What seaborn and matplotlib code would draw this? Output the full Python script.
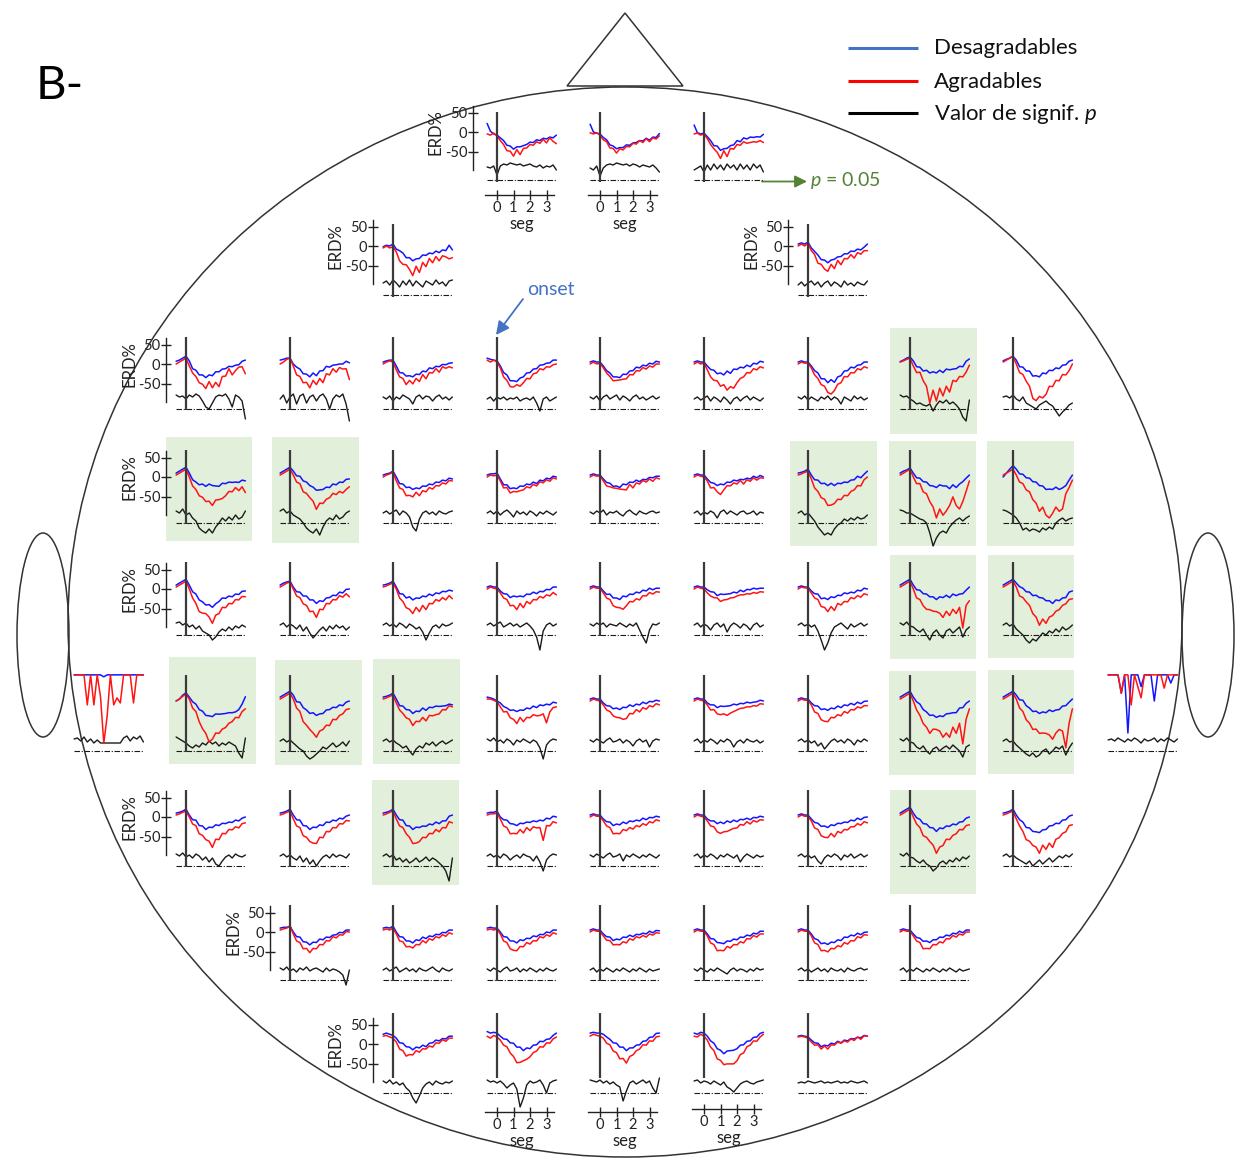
import numpy as np
import matplotlib
matplotlib.use("Agg")
import matplotlib.pyplot as plt
from matplotlib.patches import Ellipse, Polygon, Rectangle
import seaborn as sns

sns.set_style("white")
plt.rcParams["font.family"] = ["Lato", "DejaVu Sans"]
plt.rcParams["mathtext.fontset"] = "custom"
plt.rcParams["mathtext.rm"] = "Lato"
plt.rcParams["mathtext.it"] = "Lato:italic"

# ---------------------------------------------------------------- data
# time axis of every trace (s), onset at 0
TIME = np.round(np.arange(-0.6, 3.61, 0.2), 1)

# ERD% traces per row of electrodes (left to right); p traces are the
# height of the significance curve above the p = 0.05 line
BLUE_R1 = [
    [22, 2, -5, -8, -15, -22, -34, -36, -44, -38, -38, -35, -32, -26, -27, -20, -22, -16, -18, -13, -15, -8],
    [20, 0, -3, -5, -14, -20, -33, -36, -43, -40, -40, -33, -34, -28, -27, -22, -23, -16, -21, -13, -14, -4],
    [18, -2, -5, -3, -12, -22, -35, -36, -47, -43, -42, -35, -33, -22, -25, -15, -18, -13, -14, -12, -13, -6],
]
RED_R1 = [
    [-5, -8, -3, -10, -22, -32, -48, -49, -62, -45, -58, -42, -41, -32, -34, -25, -29, -19, -28, -15, -24, -30],
    [-2, -5, -2, -8, -20, -25, -41, -42, -54, -43, -46, -37, -38, -29, -31, -22, -27, -17, -25, -15, -18, -10],
    [-5, -3, -8, -5, -17, -32, -43, -52, -68, -48, -63, -42, -44, -32, -34, -25, -29, -27, -25, -26, -22, -27],
]
P_R1 = [
    [13, 12, 14, 5, 14, 16, 15, 17, 16, 15, 16, 14, 15, 16, 14, 13, 15, 12, 14, 13, 15, 10],
    [12, 10, 14, 4, 12, 15, 16, 15, 17, 16, 15, 16, 14, 16, 15, 13, 15, 14, 13, 15, 12, 8],
    [10, 12, 14, 8, 15, 10, 16, 11, 15, 10, 16, 12, 15, 10, 16, 11, 15, 10, 16, 12, 15, 8],
]

BLUE_R2 = [
    [-2, 2, 0, 5, -8, -12, -18, -30, -30, -38, -33, -32, -23, -24, -18, -20, -13, -17, -10, -12, 2, -10],
    [5, 8, 5, 10, -5, -14, -23, -35, -36, -43, -36, -34, -28, -27, -20, -20, -13, -14, -8, -10, -3, 5],
]
RED_R2 = [
    [-5, 0, -5, -2, -15, -38, -47, -48, -60, -76, -52, -68, -42, -53, -32, -43, -27, -38, -25, -28, -33, -30],
    [0, 5, 0, 8, -12, -22, -44, -47, -59, -65, -47, -58, -37, -48, -32, -33, -22, -31, -17, -21, -12, -12],
]
P_R2 = [
    [12, 14, 10, 15, 12, 8, 14, 10, 15, 9, 14, 11, 8, 14, 12, 10, 15, 11, 13, 9, 14, 15],
    [10, 13, 9, 12, 14, 10, 13, 8, 12, 14, 9, 13, 11, 8, 14, 10, 12, 9, 13, 11, 10, 14],
]

BLUE_R3 = [
    [7, 10, 15, 20, 8, -12, -16, -28, -28, -35, -28, -30, -20, -20, -13, -12, -6, -7, -3, -2, 7, 10],
    [10, 12, 15, 15, 0, -8, -13, -25, -26, -33, -23, -30, -18, -17, -6, -8, -3, -2, 0, 0, 7, 3],
    [5, 8, 10, 10, -5, -22, -23, -31, -30, -33, -26, -27, -18, -20, -10, -12, -6, -7, -1, -2, 2, 3],
    [15, 12, 10, 8, -5, -22, -28, -43, -43, -45, -36, -33, -23, -22, -13, -12, -3, -2, 2, 3, 10, 10],
    [5, 8, 5, 5, -5, -17, -23, -33, -33, -35, -26, -27, -18, -17, -8, -10, -3, -5, 2, 0, 7, 5],
    [5, 8, 5, 5, -5, -14, -16, -25, -23, -28, -18, -24, -13, -14, -8, -10, -3, -7, 2, 0, 7, 5],
    [5, 8, 5, 5, -5, -17, -23, -38, -38, -48, -40, -47, -33, -30, -18, -17, -8, -10, -3, -2, 5, 5],
    [6, 10, 15, 18, 8, -7, -8, -18, -16, -23, -20, -23, -16, -22, -13, -15, -13, -12, -6, -7, 7, 13],
    [8, 12, 15, 20, 10, -7, -8, -18, -18, -31, -30, -33, -23, -25, -16, -17, -10, -12, -3, -2, 7, 10],
]
RED_R3 = [
    [0, 5, 10, 15, -5, -23, -32, -48, -52, -63, -45, -61, -47, -58, -32, -31, -12, -28, -17, -8, -7, -25],
    [0, 5, 12, 15, -5, -28, -32, -48, -47, -61, -42, -53, -37, -48, -25, -28, -12, -21, -9, -13, -12, -40],
    [0, 5, 8, 5, -15, -33, -37, -53, -42, -51, -37, -45, -27, -38, -22, -23, -12, -21, -7, -11, -7, -10],
    [10, 5, 10, 5, -10, -33, -42, -58, -59, -53, -57, -48, -37, -38, -25, -23, -12, -15, -7, -8, -2, 0],
    [0, 5, 0, 2, -10, -23, -32, -43, -42, -41, -39, -38, -27, -28, -17, -18, -9, -13, -5, -8, 0, 0],
    [0, 5, 0, 3, -15, -33, -42, -43, -57, -53, -67, -58, -62, -48, -37, -33, -22, -23, -12, -15, -7, -10],
    [0, 5, 2, 3, -10, -28, -37, -53, -57, -73, -77, -68, -52, -48, -32, -33, -22, -23, -12, -15, -7, -10],
    [5, 8, 12, 15, -5, -22, -21, -43, -57, -100, -67, -95, -62, -82, -57, -72, -42, -45, -32, -33, -21, -3],
    [5, 10, 15, 20, 0, -22, -27, -44, -57, -88, -94, -83, -87, -78, -57, -58, -42, -43, -27, -28, -17, 0],
]
P_R3 = [
    [14, 12, 13, 10, 14, 12, 15, 13, 8, 2, 0, 6, 12, 14, 13, 15, 10, 2, 14, 12, 8, -10],
    [10, 14, 6, 12, 15, 5, 13, 15, 6, 12, 14, 8, 13, 15, 10, 0, 10, 14, 12, 15, 5, -12],
    [12, 10, 13, 8, 12, 10, 14, 12, 10, 5, 12, 14, 10, 13, 12, 8, 12, 14, 10, 12, 9, 12],
    [10, 12, 8, 12, 10, 12, 9, 11, 10, 12, 8, 10, 11, 9, 12, 6, -2, 10, 12, 8, 10, 12],
    [12, 10, 13, 8, 12, 14, 10, 12, 14, 9, 13, 11, 8, 12, 14, 10, 12, 9, 11, 13, 10, 12],
    [10, 12, 9, 11, 13, 8, 12, 10, 7, 12, 9, 5, 10, 12, 8, 11, 13, 9, 12, 10, 8, 11],
    [12, 10, 13, 9, 12, 10, 8, 12, 10, 13, 9, 12, 10, 5, 12, 10, 8, 13, 10, 12, 9, 11],
    [14, 12, 13, 10, 8, 5, 6, 4, 3, 5, -2, 4, 8, 6, 9, 5, 7, 4, 0, -8, -12, 9],
    [12, 13, 11, 14, 10, 8, 12, 6, 4, 2, 0, 4, 6, 8, 5, 3, -2, -7, -3, 0, 4, 6],
]

BLUE_R4 = [
    [10, 15, 20, 25, 10, -7, -13, -20, -18, -24, -18, -22, -23, -24, -16, -17, -13, -14, -13, -14, -8, -10],
    [10, 15, 20, 25, 15, 3, 2, -10, -13, -22, -26, -34, -33, -32, -26, -27, -18, -20, -13, -14, -6, -5],
    [5, 8, 10, 15, 0, -17, -18, -27, -26, -32, -28, -30, -23, -24, -18, -20, -13, -14, -8, -10, -3, -5],
    [5, 8, 8, 10, -5, -20, -20, -30, -28, -30, -23, -24, -18, -20, -13, -17, -8, -10, -3, -5, 2, 0],
    [5, 8, 5, 5, -5, -14, -16, -24, -23, -27, -18, -20, -13, -14, -8, -12, -6, -7, -1, -2, 2, 2],
    [5, 8, 5, 5, -5, -14, -16, -22, -18, -20, -13, -14, -8, -10, -6, -7, -3, -5, 2, -2, 4, 0],
    [10, 12, 15, 20, 5, -7, -8, -17, -16, -22, -16, -22, -16, -17, -13, -14, -8, -7, 2, -2, 7, 15],
    [10, 15, 18, 23, 10, -2, -3, -12, -13, -22, -23, -27, -20, -23, -23, -30, -20, -27, -18, -12, -3, 5],
    [0, 10, 20, 29, 20, 8, 7, -2, -3, -12, -13, -22, -23, -32, -31, -32, -26, -32, -28, -22, -8, 5],
]
RED_R4 = [
    [5, 10, 15, 20, 0, -23, -32, -48, -52, -63, -62, -73, -59, -58, -55, -48, -37, -38, -27, -35, -25, -40],
    [5, 10, 15, 20, 5, -13, -17, -38, -42, -53, -62, -83, -67, -68, -57, -53, -42, -45, -37, -41, -32, -25],
    [0, 5, 8, 12, -10, -28, -32, -48, -47, -51, -39, -48, -35, -38, -27, -31, -22, -23, -15, -18, -9, -10],
    [0, 5, 3, 5, -10, -28, -27, -41, -37, -38, -35, -33, -25, -28, -19, -23, -12, -15, -7, -11, -2, -5],
    [0, 5, 2, 3, -10, -23, -25, -28, -29, -31, -32, -33, -19, -28, -15, -18, -9, -13, -5, -11, -2, -5],
    [0, 5, 2, 0, -10, -28, -27, -38, -45, -33, -22, -23, -15, -18, -9, -18, -7, -11, -2, -8, -2, -3],
    [5, 8, 12, 15, -5, -28, -37, -53, -57, -73, -72, -68, -57, -58, -47, -48, -37, -33, -22, -23, -7, 0],
    [5, 10, 15, 20, 0, -17, -17, -38, -43, -63, -77, -105, -82, -98, -87, -73, -51, -73, -82, -63, -37, -10],
    [5, 10, 15, 20, 5, -13, -17, -33, -38, -58, -67, -88, -77, -98, -105, -93, -77, -88, -82, -43, -27, -8],
]
P_R4 = [
    [12, 10, 14, 8, 10, 5, 2, -5, -8, -10, -6, -10, -4, 0, 5, 2, 6, 3, 8, 4, 6, 12],
    [12, 14, 10, 12, 8, 6, 4, 0, -5, -8, -10, -6, -12, -4, 2, 5, 3, 8, 4, 6, 10, 12],
    [10, 12, 9, 11, 13, 8, 12, 10, 6, -4, -8, 4, 10, 12, 9, 11, 8, 12, 10, 9, 11, 12],
    [10, 12, 9, 12, 8, 11, 13, 10, 6, 12, 9, 11, 8, 12, 10, 7, 11, 9, 12, 10, 8, 11],
    [11, 9, 12, 10, 13, 8, 11, 10, 12, 9, 7, 11, 13, 10, 8, 12, 10, 9, 11, 12, 10, 11],
    [10, 12, 8, 11, 9, 12, 10, 5, 11, 13, 9, 12, 10, 8, 11, 12, 9, 10, 12, 8, 11, 10],
    [10, 12, 8, 10, 6, 2, -4, -8, -12, -10, -12, -6, -2, 0, 4, 2, 5, 3, 6, 4, 5, 8],
    [13, 12, 10, 10, 8, 6, 4, 3, 0, -10, -23, -15, -10, -8, -10, -4, 0, 3, 5, 2, 5, 7],
    [13, 12, 10, 8, 5, 0, -7, -5, -8, -6, -7, -9, -5, -7, -4, -6, 0, 3, 5, 2, 4, 5],
]

BLUE_R5 = [
    [10, 15, 20, 25, 10, -7, -13, -28, -33, -41, -40, -47, -38, -32, -23, -24, -18, -20, -13, -14, -6, -5],
    [10, 15, 18, 20, 5, -7, -8, -18, -18, -28, -28, -37, -30, -32, -23, -22, -16, -17, -8, -10, -1, 0],
    [10, 12, 15, 20, 5, -12, -13, -23, -20, -28, -23, -24, -18, -20, -13, -17, -10, -12, -6, -7, -3, -5],
    [5, 8, 5, 5, -5, -12, -13, -22, -18, -20, -18, -20, -13, -14, -8, -12, -6, -7, -1, -2, 5, 5],
    [5, 8, 5, 5, -5, -14, -13, -23, -23, -27, -18, -20, -13, -14, -8, -10, -3, -5, 2, -2, 2, 2],
    [5, 8, 5, 5, -2, -7, -8, -17, -13, -14, -13, -12, -8, -10, -3, -7, -1, -2, 2, 0, 2, 2],
    [5, 8, 5, 5, -5, -12, -13, -25, -23, -27, -20, -22, -16, -17, -10, -12, -8, -10, -3, -5, 2, 0],
    [10, 15, 20, 25, 10, -2, -3, -12, -13, -20, -20, -27, -20, -22, -16, -22, -13, -17, -13, -12, -3, 5],
    [10, 15, 20, 25, 15, 6, 2, -7, -8, -17, -16, -22, -23, -30, -30, -37, -28, -30, -23, -22, -8, -5],
]
RED_R5 = [
    [5, 10, 15, 20, 0, -23, -37, -58, -62, -63, -72, -88, -67, -63, -47, -48, -37, -38, -27, -28, -19, -20],
    [5, 10, 15, 18, 0, -18, -22, -38, -42, -58, -57, -73, -52, -53, -37, -38, -27, -28, -17, -21, -12, -20],
    [5, 8, 12, 15, 0, -23, -32, -48, -52, -63, -47, -58, -42, -53, -37, -38, -27, -31, -22, -28, -17, -25],
    [0, 5, 2, 0, -10, -23, -27, -43, -42, -53, -37, -48, -32, -38, -27, -28, -19, -23, -15, -18, -9, -15],
    [0, 5, 2, 2, -10, -23, -27, -43, -47, -48, -52, -43, -32, -33, -25, -28, -17, -18, -9, -13, -7, -8],
    [0, 5, 2, 0, -10, -18, -22, -23, -32, -28, -27, -23, -22, -18, -15, -15, -12, -13, -9, -11, -7, -8],
    [0, 5, 3, 2, -10, -23, -27, -45, -47, -58, -45, -55, -37, -41, -32, -33, -22, -25, -17, -21, -12, -15],
    [5, 10, 15, 20, 0, -23, -27, -43, -52, -53, -57, -58, -62, -73, -57, -68, -52, -63, -47, -100, -42, -30],
    [5, 10, 15, 20, 5, -18, -22, -33, -42, -63, -72, -93, -77, -88, -72, -68, -57, -53, -42, -38, -27, -25],
]
P_R5 = [
    [12, 13, 10, 12, 8, 10, 6, 9, 4, 2, 0, -5, -2, 3, 6, 4, 8, 5, 9, 7, 10, 8],
    [10, 12, 8, 11, 9, 6, 10, 4, 8, 2, -3, 1, 5, 8, 4, 9, 6, 10, 7, 9, 5, 8],
    [10, 12, 9, 11, 8, 12, 10, 7, 11, 9, 6, 8, 3, -5, 2, 8, 10, 7, 11, 9, 10, 12],
    [10, 12, 9, 11, 13, 8, 10, 12, 9, 11, 8, 10, 12, 9, 5, -2, -15, 4, 10, 12, 9, 11],
    [11, 9, 12, 10, 12, 8, 11, 10, 9, 12, 10, 8, 11, 9, 12, 5, -2, -8, 5, 11, 10, 12],
    [10, 12, 8, 11, 9, 5, 10, 12, 8, 11, 3, 9, 12, 10, 7, 11, 9, 5, 10, 12, 8, 10],
    [10, 12, 9, 11, 8, 10, 4, -5, -15, -8, 2, 8, 10, 12, 9, 6, 11, 8, 10, 12, 9, 11],
    [12, 10, 13, 9, 8, 5, 3, 6, 0, -5, 2, 5, 0, -3, 4, 6, 2, 5, 8, -2, 5, 8],
    [10, 12, 9, 11, 6, 3, 0, -5, -8, -4, -6, -2, 2, 0, 4, 2, 6, 3, 8, 5, 7, 10],
]

BLUE_R6 = [
    [0, 5, 15, 21, 10, -2, -8, -22, -26, -37, -38, -40, -33, -34, -33, -32, -30, -30, -28, -22, -8, 11],
    [10, 15, 20, 25, 15, -2, -3, -17, -23, -32, -30, -37, -33, -32, -23, -22, -16, -17, -10, -12, -3, 0],
    [10, 12, 15, 20, 5, -12, -13, -22, -23, -32, -26, -27, -18, -24, -16, -17, -13, -14, -13, -12, -8, -10],
    [10, 8, 5, 0, -5, -14, -18, -24, -23, -27, -23, -24, -18, -20, -13, -17, -10, -12, -8, -10, -3, -5],
    [5, 8, 5, 5, -5, -12, -13, -20, -18, -22, -16, -17, -10, -14, -8, -10, -3, -7, -1, -2, 2, 0],
    [5, 8, 5, 5, -5, -10, -10, -17, -13, -14, -13, -12, -8, -10, -6, -7, -3, -5, -3, -2, 2, 0],
    [5, 8, 5, 5, -5, -12, -13, -22, -20, -24, -18, -20, -13, -17, -10, -12, -6, -10, -3, -7, -1, 0],
    [10, 15, 20, 25, 10, -2, -8, -22, -28, -37, -36, -42, -38, -40, -33, -32, -30, -30, -18, -17, -6, 0],
    [10, 15, 20, 25, 15, 3, 2, -12, -18, -27, -26, -32, -28, -30, -23, -27, -23, -22, -13, -12, -3, 5],
]
RED_R6 = [
    [0, 5, 12, 18, 5, -18, -27, -53, -71, -83, -105, -98, -82, -83, -72, -68, -57, -53, -42, -43, -27, -20],
    [5, 10, 15, 20, 5, -18, -27, -53, -62, -73, -82, -93, -77, -73, -62, -63, -47, -48, -37, -33, -22, -20],
    [5, 8, 12, 15, -5, -23, -32, -43, -47, -63, -52, -53, -42, -51, -37, -38, -35, -33, -22, -23, -12, -15],
    [5, 5, 2, -2, -15, -28, -27, -43, -47, -58, -42, -53, -42, -43, -35, -38, -37, -33, -56, -28, -17, -15],
    [0, 5, 2, 0, -10, -23, -27, -38, -42, -43, -47, -45, -32, -33, -22, -28, -17, -21, -12, -15, -7, -10],
    [0, 5, 2, 0, -10, -23, -22, -33, -35, -33, -37, -31, -27, -23, -19, -18, -15, -15, -12, -13, -7, -8],
    [0, 5, 2, 2, -10, -28, -32, -48, -52, -53, -42, -43, -35, -38, -27, -31, -22, -23, -15, -18, -12, -12],
    [5, 10, 15, 20, 0, -23, -37, -58, -67, -83, -72, -73, -77, -93, -82, -93, -67, -83, -57, -110, -47, -20],
    [5, 10, 15, 20, 5, -18, -27, -48, -57, -73, -72, -83, -82, -83, -87, -98, -82, -73, -77, -120, -57, -20],
]
P_R6 = [
    [14, 12, 10, 8, 5, 3, 6, 4, 8, 6, 10, 7, 9, 5, 8, 6, 9, 7, 5, -2, -7, 13],
    [10, 12, 9, 11, 8, 5, 2, 0, -5, -8, -6, -3, 0, 4, 2, 5, 8, 4, 6, 9, 5, 10],
    [10, 12, 9, 11, 8, 6, 3, 5, 0, -4, 2, 5, 3, 8, 6, 9, 5, 8, 10, 7, 9, 11],
    [12, 10, 13, 9, 11, 8, 12, 10, 6, 11, 9, 12, 10, 8, 11, 9, 3, -8, 6, 10, 12, 11],
    [11, 9, 12, 10, 8, 11, 13, 9, 10, 12, 8, 11, 9, 5, 10, 12, 9, 11, 4, 10, 12, 11],
    [10, 12, 8, 11, 9, 12, 10, 7, 11, 9, 12, 10, 4, 9, 11, 8, 12, 10, 9, 11, 8, 10],
    [10, 12, 9, 11, 8, 10, 5, 8, 2, 6, 10, 12, 9, 11, 8, 12, 10, 6, 11, 9, 12, 10],
    [12, 10, 13, 9, 8, 4, 2, 5, 0, -3, 2, 4, 0, 3, 5, 2, 6, 3, 0, -6, 4, 6],
    [10, 12, 9, 10, 6, 3, 0, -3, -5, -2, -6, -4, 0, 2, -3, 0, 4, 2, 5, -4, 3, 8],
]

# temporal electrodes beside the ears (traces saturate at the top)
BLUE_EAR_L = [67, 67, 67, 67, 67, 67, 67, 67, 67, 62, 67, 67, 67, 67, 67, 67, 67, 67, 67, 67, 67, 67]
RED_EAR_L = [67, 67, 67, 67, -10, 67, -10, 67, 11, -108, -40, 67, -10, 8, -5, 67, 67, 67, -5, 67, 67, 67]
P_EAR_L = [12, 13, 10, 14, 9, 12, 8, 11, 8, 8, 8, 8, 8, 8, 8, 13, 15, 10, 14, 12, 15, 9]
BLUE_EAR_R = [67, 67, 67, 67, 20, 67, -82, 67, 67, 67, 37, 67, 67, 67, 0, 67, 67, 67, 67, 46, 67, 67]
RED_EAR_R = [67, 67, 67, 67, 20, 67, 67, -10, 67, 37, 8, 67, 67, 67, 67, 67, 67, 33, 67, 67, 67, 67]
P_EAR_R = [11, 12, 10, 13, 11, 9, 12, 10, 13, 11, 8, 12, 10, 11, 13, 9, 12, 10, 13, 11, 9, 12]

BLUE_R7 = [
    [10, 12, 15, 20, 5, -7, -8, -22, -23, -32, -26, -27, -20, -22, -16, -17, -13, -14, -8, -10, -3, 0],
    [10, 12, 15, 20, 5, -7, -8, -22, -23, -32, -26, -27, -20, -22, -13, -14, -8, -10, -3, -5, 2, 5],
    [10, 12, 15, 20, 5, -7, -8, -22, -23, -32, -26, -27, -23, -24, -18, -20, -13, -17, -10, -10, 2, 5],
    [10, 12, 12, 15, 0, -7, -8, -17, -18, -22, -16, -17, -13, -14, -10, -12, -8, -10, -3, -5, 2, 0],
    [5, 8, 5, 5, -5, -12, -13, -22, -18, -20, -13, -17, -10, -12, -8, -10, -3, -7, -1, -2, 2, 0],
    [5, 8, 5, 5, -5, -10, -10, -17, -13, -17, -10, -14, -8, -12, -6, -7, -3, -7, -1, -2, 2, 0],
    [5, 8, 5, 5, -5, -14, -16, -24, -23, -27, -20, -22, -16, -17, -13, -14, -8, -10, -3, -7, -1, 0],
    [10, 15, 20, 25, 10, -2, -6, -17, -18, -27, -28, -37, -28, -30, -23, -24, -18, -20, -13, -12, -3, 0],
    [10, 12, 15, 20, 5, -7, -13, -27, -28, -37, -38, -40, -33, -32, -23, -22, -16, -17, -8, -7, 2, 5],
]
RED_R7 = [
    [5, 8, 12, 15, 0, -18, -22, -43, -47, -58, -62, -78, -57, -58, -42, -43, -32, -33, -25, -28, -17, -15],
    [5, 8, 12, 15, -5, -23, -27, -48, -52, -63, -67, -68, -52, -53, -37, -38, -27, -28, -17, -18, -9, -10],
    [5, 8, 12, 15, -5, -23, -27, -43, -52, -68, -67, -63, -52, -53, -42, -43, -32, -38, -27, -28, -12, -15],
    [5, 8, 8, 10, -5, -23, -27, -43, -42, -43, -32, -41, -27, -35, -25, -28, -27, -60, -22, -23, -12, -15],
    [0, 5, 2, 2, -10, -23, -27, -43, -42, -43, -32, -35, -27, -31, -22, -25, -17, -21, -12, -15, -7, -10],
    [0, 5, 2, 0, -10, -23, -25, -38, -42, -38, -37, -33, -29, -28, -19, -21, -12, -18, -9, -13, -7, -8],
    [0, 5, 2, 2, -10, -28, -32, -48, -52, -53, -42, -51, -37, -41, -32, -33, -25, -25, -17, -21, -12, -15],
    [5, 10, 15, 20, 0, -18, -27, -48, -52, -63, -72, -93, -77, -73, -57, -58, -47, -43, -32, -33, -22, -20],
    [5, 8, 12, 15, -5, -23, -37, -58, -62, -73, -77, -93, -72, -83, -67, -78, -57, -53, -42, -38, -22, -20],
]
P_R7 = [
    [12, 10, 13, 9, 11, 8, 12, 10, 6, 9, 4, 8, 2, 0, 5, 9, 11, 8, 12, 10, 9, 11],
    [10, 12, 9, 11, 8, 6, 10, 4, 8, 2, 6, 0, 5, 9, 11, 8, 12, 9, 11, 10, 8, 12],
    [10, 12, 9, 11, 6, 8, 4, 7, 3, 5, 8, 4, 6, 9, 5, 8, 6, 3, 0, -5, -15, 8],
    [10, 12, 9, 11, 8, 12, 10, 6, 9, 11, 8, 12, 10, 9, 5, 10, 4, -5, 6, 10, 12, 11],
    [11, 9, 12, 10, 8, 11, 13, 9, 10, 12, 5, 11, 9, 12, 10, 8, 11, 9, 12, 10, 8, 11],
    [10, 12, 8, 11, 9, 12, 10, 7, 11, 9, 12, 10, 8, 11, 4, 9, 12, 10, 8, 11, 9, 10],
    [10, 12, 9, 11, 8, 10, 5, 2, 8, 11, 9, 12, 10, 6, 11, 9, 12, 8, 10, 12, 9, 11],
    [12, 10, 13, 9, 8, 5, 3, 6, 2, 0, -5, -2, 3, 5, 2, 6, 4, 8, 5, 9, 7, 10],
    [10, 12, 9, 11, 8, 6, 4, 2, 5, 0, 3, 6, 2, 5, 8, 4, 7, 10, 8, 11, 9, 12],
]

BLUE_R8 = [
    [10, 12, 12, 15, 0, -12, -13, -25, -26, -33, -26, -27, -18, -20, -13, -14, -8, -7, -1, -2, 5, 5],
    [10, 12, 10, 15, 0, -12, -13, -23, -23, -28, -20, -22, -13, -17, -10, -12, -6, -7, -1, -2, 5, 5],
    [10, 12, 10, 10, 0, -12, -13, -23, -23, -28, -20, -22, -16, -17, -10, -12, -6, -7, 0, -2, 5, 5],
    [5, 8, 5, 5, -5, -12, -13, -22, -18, -20, -13, -14, -8, -12, -6, -7, -3, -5, 2, -2, 4, 3],
    [5, 8, 5, 5, -5, -17, -18, -27, -28, -30, -23, -24, -18, -20, -13, -14, -8, -10, -3, -5, 2, 2],
    [5, 8, 5, 5, -5, -17, -20, -30, -28, -32, -26, -27, -20, -22, -13, -14, -8, -10, -3, -7, -1, 0],
    [5, 8, 5, 5, -5, -14, -16, -24, -23, -27, -20, -20, -13, -14, -8, -10, -3, -5, 2, -2, 5, 5],
]
RED_R8 = [
    [5, 8, 10, 15, -5, -23, -27, -43, -42, -53, -42, -43, -32, -33, -22, -23, -12, -15, -7, -8, 1, 0],
    [5, 8, 5, 10, -5, -23, -25, -38, -37, -41, -32, -33, -22, -28, -17, -21, -12, -15, -7, -11, -2, -5],
    [5, 8, 5, 8, -5, -23, -27, -43, -47, -48, -37, -38, -27, -31, -22, -23, -12, -15, -7, -11, -2, -5],
    [0, 5, 2, 2, -10, -21, -22, -33, -32, -33, -25, -28, -17, -21, -12, -15, -9, -13, -5, -8, -2, -3],
    [0, 5, 2, 2, -10, -28, -32, -48, -47, -48, -37, -41, -32, -33, -25, -28, -17, -18, -9, -13, -5, -5],
    [0, 5, 2, 2, -10, -28, -32, -48, -47, -51, -42, -43, -35, -38, -27, -31, -22, -23, -12, -15, -7, -8],
    [0, 5, 2, 2, -10, -23, -27, -43, -42, -43, -32, -33, -25, -28, -17, -18, -9, -13, -5, -8, 0, 0],
]
P_R8 = [
    [12, 10, 13, 9, 11, 8, 12, 10, 13, 9, 11, 12, 10, 8, 12, 9, 11, 10, 8, 5, -5, 10],
    [10, 12, 9, 11, 13, 8, 10, 12, 9, 11, 8, 12, 10, 9, 11, 13, 10, 8, 12, 10, 9, 11],
    [11, 9, 12, 10, 8, 11, 13, 9, 10, 12, 8, 11, 9, 12, 10, 8, 11, 9, 12, 10, 9, 11],
    [10, 12, 8, 11, 9, 12, 10, 8, 11, 9, 12, 10, 8, 11, 9, 12, 10, 8, 11, 9, 10, 11],
    [11, 9, 12, 10, 8, 11, 9, 12, 10, 8, 6, 10, 12, 9, 11, 10, 8, 11, 9, 12, 10, 11],
    [10, 12, 9, 11, 8, 10, 12, 9, 11, 8, 12, 10, 9, 11, 8, 12, 10, 9, 11, 12, 10, 11],
    [10, 12, 8, 11, 9, 12, 10, 8, 11, 9, 12, 10, 8, 11, 9, 12, 10, 8, 11, 9, 10, 11],
]

BLUE_R9 = [
    [25, 28, 25, 22, 15, 3, 2, -7, -8, -15, -8, -10, -3, -7, 2, 3, 10, 8, 14, 13, 20, 20],
    [32, 28, 30, 28, 20, 13, 12, 3, 2, -8, -8, -17, -10, -12, -3, -2, 7, 6, 12, 13, 22, 28],
    [28, 30, 28, 28, 25, 18, 12, 3, 2, -8, -8, -17, -10, -10, -3, -2, 7, 8, 17, 18, 27, 28],
    [28, 25, 30, 28, 20, 8, 2, -12, -16, -25, -18, -17, -16, -12, -3, -2, 7, 8, 17, 18, 27, 30],
    [20, 22, 20, 18, 10, 3, 2, -7, -3, -5, 2, 0, 7, 3, 10, 8, 14, 13, 17, 16, 22, 20],
]
RED_R9 = [
    [20, 22, 18, 15, 5, -13, -17, -31, -27, -28, -17, -21, -12, -13, -5, -8, 3, 2, 11, 7, 15, 15],
    [20, 15, 22, 18, 10, -3, -7, -23, -32, -48, -47, -43, -39, -33, -22, -18, -7, -8, 3, 2, 13, 18],
    [20, 25, 22, 20, 15, 2, -2, -18, -22, -38, -37, -49, -32, -28, -17, -13, -2, -3, 8, 7, 18, 20],
    [20, 18, 25, 20, 10, -8, -17, -38, -42, -53, -51, -51, -51, -43, -27, -23, -7, -3, 8, 7, 18, 25],
    [18, 20, 18, 15, 5, -3, -2, -13, -5, -13, -2, -3, 5, 2, 8, 5, 13, 9, 18, 12, 21, 20],
]
P_R9 = [
    [12, 10, 13, 9, 11, 8, 10, 5, 2, -5, -10, -3, 5, 9, 11, 8, 12, 10, 9, 11, 10, 12],
    [13, 11, 12, 10, 12, 9, 5, 8, 10, 4, -14, -5, 8, 12, 10, 11, 13, 8, 0, 10, 12, 13],
    [13, 12, 11, 13, 10, 12, 9, 11, 8, 6, -8, 2, 10, 12, 9, 11, 13, 10, 12, 5, 0, 15],
    [12, 13, 10, 12, 11, 9, 12, 10, 8, 11, 6, 4, 1, 5, 9, 11, 12, 10, 9, 11, 12, 13],
    [10, 11, 10, 12, 11, 10, 11, 12, 10, 11, 10, 11, 12, 10, 11, 10, 12, 11, 10, 11, 12, 10],
]

LEGEND_LABELS = ["Desagradables", "Agradables", r"Valor de signif. $\mathit{p}$"]

# ---------------------------------------------------------------- layout (pixels)
W, H = 1235, 1159
SX = 16.5    # px per second
SY = 0.39    # px per ERD% unit
COL_X = [186, 290, 393, 497, 600, 704, 808, 910, 1013]   # onset x of each column

# y of the zero level, columns present, onset-line extent, p=0.05 line offset
ROWS = [
    dict(y=132, cols=[4, 5, 6], blue=BLUE_R1, red=RED_R1, p=P_R1, top=20, bot=50, dash=48),
    dict(y=246, cols=[3, 7], blue=BLUE_R2, red=RED_R2, p=P_R2, top=22, bot=51, dash=49),
    dict(y=364, cols=list(range(1, 10)), blue=BLUE_R3, red=RED_R3, p=P_R3, top=27, bot=46, dash=45),
    dict(y=477, cols=list(range(1, 10)), blue=BLUE_R4, red=RED_R4, p=P_R4, top=27, bot=47, dash=46),
    dict(y=589, cols=list(range(1, 10)), blue=BLUE_R5, red=RED_R5, p=P_R5, top=27, bot=47, dash=46),
    dict(y=701, cols=list(range(1, 10)), blue=BLUE_R6, red=RED_R6, p=P_R6, top=26, bot=51, dash=50),
    dict(y=817, cols=list(range(1, 10)), blue=BLUE_R7, red=RED_R7, p=P_R7, top=27, bot=50, dash=49),
    dict(y=932, cols=list(range(2, 9)), blue=BLUE_R8, red=RED_R8, p=P_R8, top=27, bot=49, dash=48),
    dict(y=1044, cols=list(range(3, 8)), blue=BLUE_R9, red=RED_R9, p=P_R9, top=31, bot=34, dash=49),
]
Y_AXIS_AT = {(1, 4): 24, (2, 3): 20, (2, 7): 20, (3, 1): 20, (4, 1): 20,
             (5, 1): 20, (7, 1): 20, (8, 2): 20, (9, 3): 20}
X_AXIS_AT = {(1, 4): 63, (1, 5): 63, (9, 4): 68, (9, 5): 68, (9, 6): 65}

SHADE_BOXES = [
    (890, 328, 977, 434), (166, 437, 252, 541), (272, 437, 359, 543),
    (790, 441, 877, 546), (889, 441, 976, 546), (987, 441, 1074, 546),
    (890, 555, 976, 659), (988, 555, 1074, 658), (169, 657, 256, 764),
    (275, 660, 362, 765), (373, 659, 460, 764), (889, 671, 976, 775),
    (988, 670, 1074, 774), (372, 780, 459, 885), (890, 790, 976, 894),
]

C_BLUE, C_RED, C_P = "#1414ff", "#ff1414", "#1a1a1a"
C_LEG_BLUE = "#4472C4"
C_GREEN = "#548235"
C_SHADE = "#E2EFDA"

fig = plt.figure(figsize=(W / 100, H / 100), dpi=100)
bg = fig.add_axes([0, 0, 1, 1])
bg.set_xlim(0, W)
bg.set_ylim(H, 0)
bg.axis("off")

# head outline, nose and ears
bg.add_patch(Ellipse((625, 622), 1114, 1070, fill=False, ec="#333333", lw=1.1, zorder=1))
bg.add_patch(Polygon([(567, 86), (625, 13), (683, 86)], closed=True, fc="white",
                     ec="#333333", lw=1.1, zorder=2))
bg.add_patch(Ellipse((43, 635), 52, 204, fill=False, ec="#333333", lw=1.1, zorder=1))
bg.add_patch(Ellipse((1208, 635), 52, 204, fill=False, ec="#333333", lw=1.1, zorder=1))

for x0, y0, x1, y1 in SHADE_BOXES:
    bg.add_patch(Rectangle((x0, y0), x1 - x0, y1 - y0, fc=C_SHADE, ec="none", zorder=0.5))

# panel title and legend
bg.text(36, 99, "B-", fontsize=34, va="baseline", ha="left", color="black")
for (yy, col), lab in zip([(48, C_LEG_BLUE), (81, "#ff0000"), (113, "black")], LEGEND_LABELS):
    bg.plot([848, 918], [yy, yy], color=col, lw=2.2, solid_capstyle="butt")
    bg.text(934, yy + 6.5, lab, fontsize=16, va="baseline", ha="left", color="#111111")

# annotations
bg.annotate("", xy=(807, 181.5), xytext=(762, 181.5),
            arrowprops=dict(arrowstyle="-|>", color=C_GREEN, lw=1.3, mutation_scale=18,
                            shrinkA=0, shrinkB=0))
bg.text(810, 186, r"$\mathit{p}$ = 0.05", fontsize=14, color=C_GREEN, va="baseline", ha="left")
bg.text(527, 295, "onset", fontsize=14, color=C_LEG_BLUE, va="baseline", ha="left")
bg.annotate("", xy=(496, 335), xytext=(523, 299),
            arrowprops=dict(arrowstyle="-|>", color=C_LEG_BLUE, lw=1.3, mutation_scale=20,
                            shrinkA=0, shrinkB=0))


def panel(ox, oy, blue, red, pv, top, bot, dash, onset=True, yaxis=None, xaxis=None):
    left, right, up, down = 32, 76, 42, 84
    ax = fig.add_axes([(ox - left) / W, 1 - (oy + down) / H, (left + right) / W, (up + down) / H])
    ax.patch.set_visible(False)
    for s in ax.spines.values():
        s.set_visible(False)

    p_line = -dash / SY
    ax.hlines(p_line, -0.6, 3.62, colors=C_P, linestyles=(0, (5, 1.5, 1, 1.5)), lw=0.8)
    sns.lineplot(x=TIME, y=p_line + np.asarray(pv) / SY, ax=ax, color=C_P, lw=1.0,
                 estimator=None, legend=False)
    sns.lineplot(x=TIME, y=blue, ax=ax, color=C_BLUE, lw=1.1, estimator=None, legend=False)
    sns.lineplot(x=TIME, y=red, ax=ax, color=C_RED, lw=1.1, estimator=None, legend=False)
    if onset:
        ax.vlines(0, -bot / SY, top / SY, colors="#3a3a3a", lw=1.6, zorder=4)

    ax.set_xlim(-left / SX, right / SX)
    ax.set_ylim(-down / SY, up / SY)
    ax.set_xlabel("")
    ax.set_ylabel("")
    ax.set_xticks([])
    ax.set_yticks([])

    if yaxis is not None:
        sp = ax.spines["left"]
        sp.set_visible(True)
        sp.set_position(("data", -yaxis / SX))
        sp.set_bounds(-38 / SY, 26 / SY)
        sp.set_color("#222222")
        sp.set_linewidth(1.0)
        ax.set_yticks([-50, 0, 50])
        ax.set_yticklabels(["-50", "0", "50"], fontsize=10.5)
        ax.tick_params(axis="y", direction="inout", length=7, width=1.0, pad=0.5,
                       left=True, colors="#222222")
        ax.text(-(yaxis + 37) / SX, 0, "ERD%", rotation=90, ha="center", va="center",
                fontsize=12, color="#222222")
    if xaxis is not None:
        sp = ax.spines["bottom"]
        sp.set_visible(True)
        sp.set_position(("data", -xaxis / SY))
        sp.set_bounds(-12 / SX, 57 / SX)
        sp.set_color("#222222")
        sp.set_linewidth(1.0)
        ax.set_xticks([0, 1, 2, 3])
        ax.set_xticklabels(["0", "1", "2", "3"], fontsize=10.5)
        ax.tick_params(axis="x", direction="inout", length=7, width=1.0, pad=1,
                       bottom=True, colors="#222222")
        ax.text(1.5, -(xaxis + 29) / SY, "seg", ha="center", va="center",
                fontsize=12, color="#222222")
    return ax


for ri, row in enumerate(ROWS, start=1):
    for k, c in enumerate(row["cols"]):
        panel(COL_X[c - 1], row["y"], row["blue"][k], row["red"][k], row["p"][k],
              row["top"], row["bot"], row["dash"],
              yaxis=Y_AXIS_AT.get((ri, c)), xaxis=X_AXIS_AT.get((ri, c)))

# temporal sites next to the ears
panel(84, 701, BLUE_EAR_L, RED_EAR_L, P_EAR_L, 26, 51, 50, onset=False)
panel(1118, 701, BLUE_EAR_R, RED_EAR_R, P_EAR_R, 26, 51, 50, onset=False)

fig.savefig("out.png", dpi=100)
